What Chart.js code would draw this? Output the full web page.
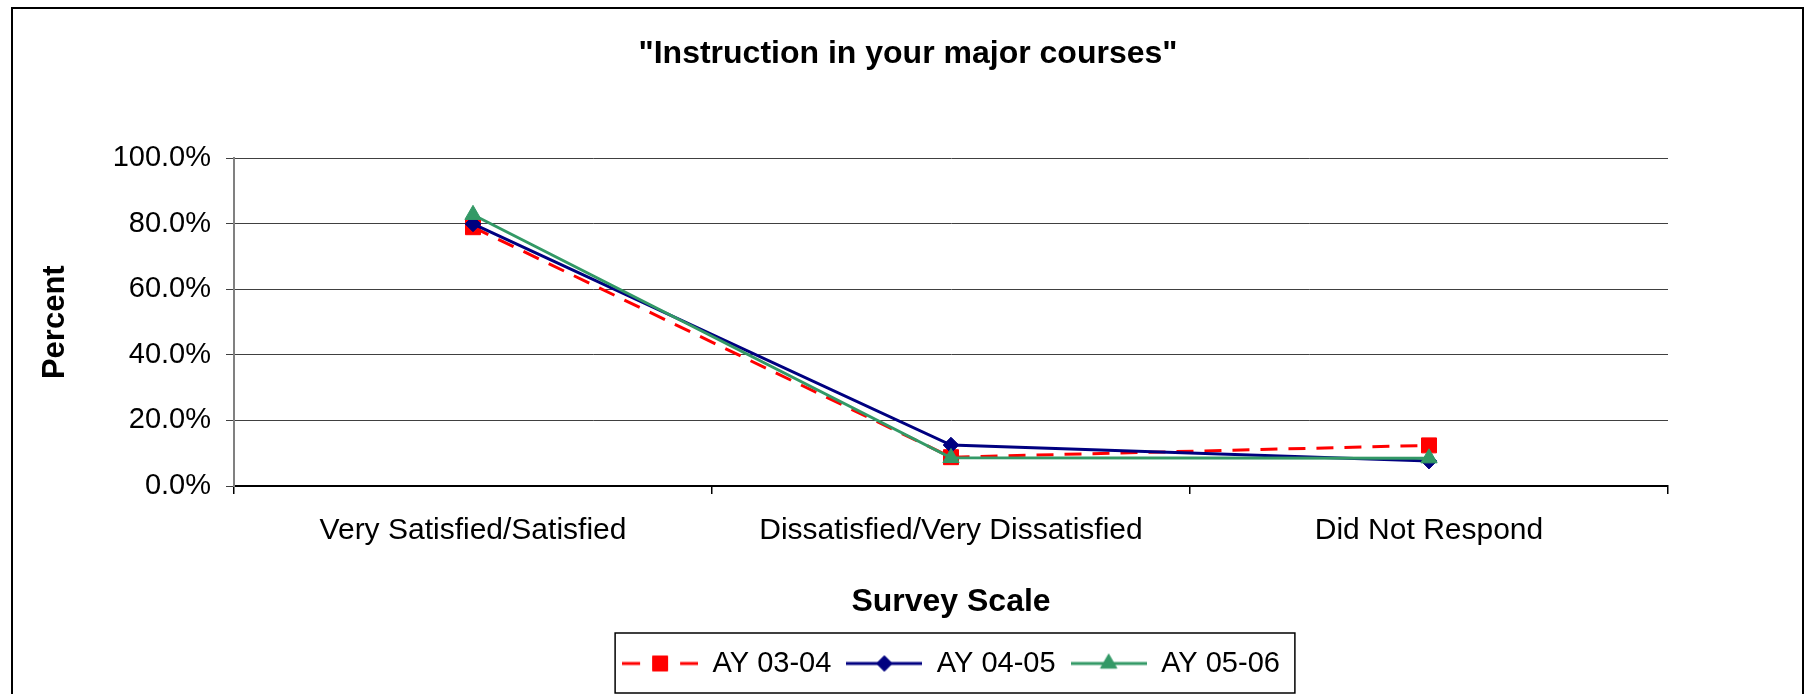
<!DOCTYPE html>
<html>
<head>
<meta charset="utf-8">
<script src="https://cdn.jsdelivr.net/npm/chart.js@4.4.1/dist/chart.umd.min.js"></script>
<style>
  html, body { margin: 0; padding: 0; background: #fff; }
  #wrap { width: 1806px; height: 694px; }
</style>
</head>
<body>
<div id="wrap"><canvas id="chart" width="1806" height="694"></canvas></div>
<script>
// survey data, percent of respondents
const categories = ['Very Satisfied/Satisfied', 'Dissatisfied/Very Dissatisfied', 'Did Not Respond'];
const ay0304 = [79.0, 8.8, 12.4];
const ay0405 = [80.0, 12.5, 7.6];
const ay0506 = [82.8, 8.6, 8.5];
const seriesNames = ['AY 03-04', 'AY 04-05', 'AY 05-06'];
const yTicks = [0, 20, 40, 60, 80, 100];

const FONT = '"Liberation Sans", Arial, sans-serif';

const styles = [
  { color: '#FF0000', dash: [17, 11], point: 'rect', radius: 10.6 },
  { color: '#000080', dash: [], point: 'rectRot', radius: 7.8 },
  { color: '#339966', dash: [], point: 'triangle', radius: 9.4 }
];

// legend sample: line with marker in the middle, like the Excel legend keys
function legendKey(st) {
  const c = document.createElement('canvas');
  c.width = 76;
  c.height = 30;
  const ctx = c.getContext('2d');
  ctx.strokeStyle = st.color;
  ctx.fillStyle = st.color;
  ctx.lineWidth = 3;
  ctx.setLineDash(st.dash.length ? [18, 40] : []);
  ctx.beginPath();
  ctx.moveTo(0, 15);
  ctx.lineTo(76, 15);
  ctx.stroke();
  ctx.setLineDash([]);
  ctx.lineWidth = 1;
  Chart.helpers.drawPoint(ctx, { pointStyle: st.point, radius: st.radius, rotation: 0, borderWidth: 1 }, 38, 15);
  return c;
}

const frame = {
  id: 'frame',
  beforeDraw(chart) {
    const ctx = chart.ctx;
    ctx.save();
    ctx.fillStyle = '#fff';
    ctx.fillRect(0, 0, chart.width, chart.height);
    ctx.strokeStyle = '#000';
    ctx.lineWidth = 2;
    ctx.beginPath();
    ctx.moveTo(12, chart.height);
    ctx.lineTo(12, 8);
    ctx.lineTo(1803, 8);
    ctx.lineTo(1803, chart.height);
    ctx.stroke();
    ctx.restore();
  },
  afterDraw(chart) {
    const lg = chart.legend;
    const hb = lg.legendHitBoxes;
    if (!hb || !hb.length) return;
    const first = hb[0];
    const last = hb[hb.length - 1];
    const ctx = chart.ctx;
    ctx.save();
    ctx.strokeStyle = '#000';
    ctx.lineWidth = 1.5;
    ctx.strokeRect(first.left - 7, first.top - 16, last.left + last.width + 15 - (first.left - 7), first.height + 31);
    ctx.restore();
  }
};

const datasets = [ay0304, ay0405, ay0506].map((vals, i) => ({
  label: seriesNames[i],
  data: vals,
  borderColor: styles[i].color,
  backgroundColor: styles[i].color,
  borderWidth: 3,
  borderDash: styles[i].dash,
  pointStyle: styles[i].point,
  pointRadius: styles[i].radius,
  pointHoverRadius: styles[i].radius,
  pointBorderWidth: 1,
  tension: 0,
  fill: false,
  order: 3 - i
}));

new Chart(document.getElementById('chart'), {
  type: 'line',
  data: { labels: categories, datasets: datasets },
  plugins: [frame],
  options: {
    responsive: false,
    animation: false,
    layout: { padding: { left: 12, right: 2, top: 8, bottom: 6 } },
    plugins: {
      title: {
        display: true,
        text: '"Instruction in your major courses"',
        color: '#000',
        font: { family: FONT, size: 32, weight: 'bold' },
        padding: { top: 27, bottom: 85 }
      },
      legend: {
        position: 'bottom',
        fullSize: false,
        labels: {
          usePointStyle: true,
          pointStyleWidth: 76,
          padding: 15,
          color: '#000',
          font: { family: FONT, size: 29 },
          generateLabels(chart) {
            return chart.data.datasets.map((ds, i) => ({
              text: ds.label,
              pointStyle: legendKey(styles[i]),
              fillStyle: ds.borderColor,
              strokeStyle: ds.borderColor,
              lineWidth: 0,
              hidden: false,
              datasetIndex: i
            }));
          }
        }
      },
      tooltip: { enabled: false }
    },
    scales: {
      x: {
        offset: true,
        grid: { offset: true, drawOnChartArea: false, drawTicks: true, tickLength: 8, color: '#000', lineWidth: 1.5 },
        border: { display: true, color: '#000', width: 2 },
        ticks: { color: '#000', padding: 19, maxRotation: 0, font: { family: FONT, size: 30 } },
        title: {
          display: true,
          text: 'Survey Scale',
          color: '#000',
          font: { family: FONT, size: 32, weight: 'bold' },
          padding: { top: 0, bottom: 13 }
        },
        afterFit(s) { s.height = 148; }
      },
      y: {
        min: 0,
        max: 100,
        afterBuildTicks(s) { s.ticks = yTicks.map(v => ({ value: v })); },
        grid: { color: '#404040', lineWidth: 1, tickLength: 8 },
        border: { display: true, color: '#808080', width: 2 },
        ticks: {
          color: '#000',
          padding: 15,
          font: { family: FONT, size: 29 },
          callback: v => v.toFixed(1) + '%'
        },
        title: {
          display: true,
          text: 'Percent',
          color: '#000',
          font: { family: FONT, size: 31, weight: 'bold' },
          padding: { top: 25, bottom: 0 }
        },
        afterFit(s) { s.width = 222; }
      },
      yRight: {
        position: 'right',
        type: 'linear',
        grid: { display: false },
        border: { display: false },
        ticks: { display: false },
        afterFit(s) { s.width = 136; }
      }
    }
  }
});
</script>
</body>
</html>
